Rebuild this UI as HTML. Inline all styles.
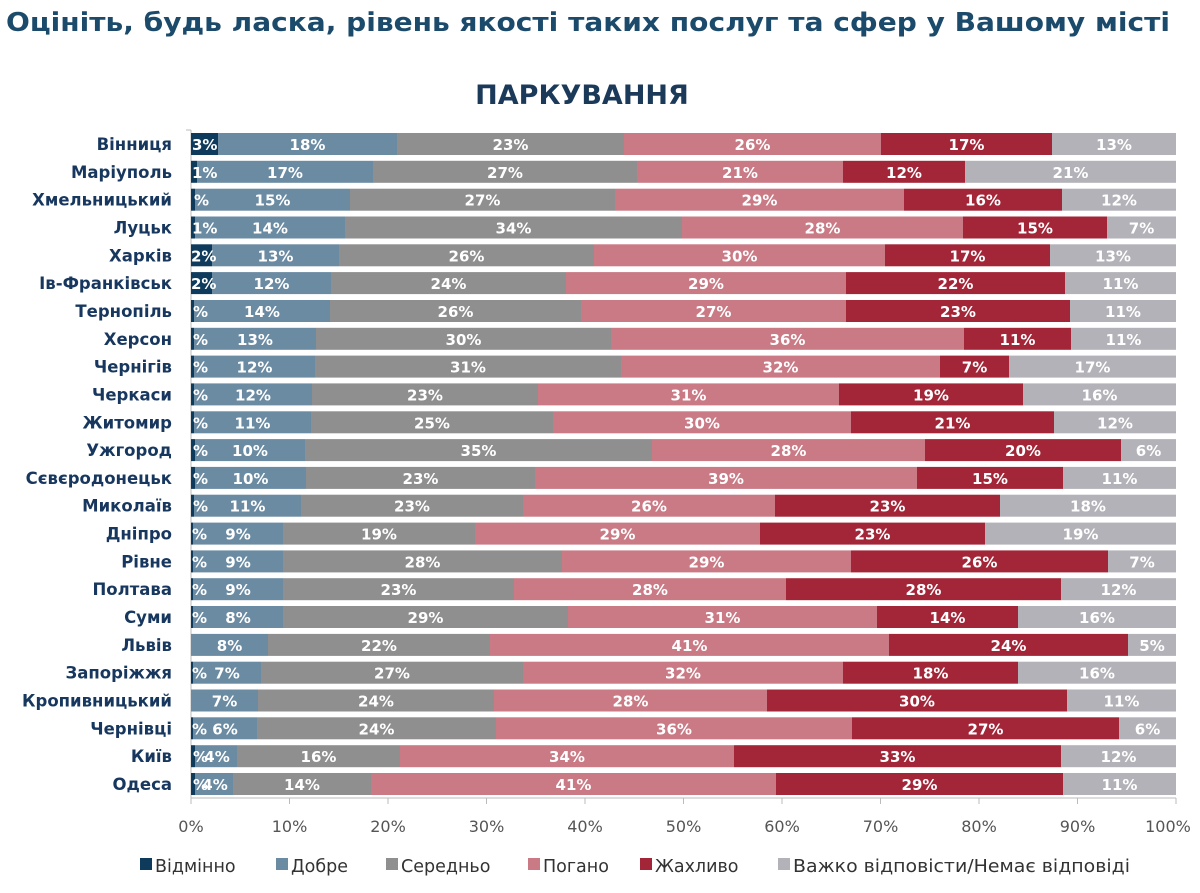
<!DOCTYPE html><html><head><meta charset="utf-8"><style>
body{margin:0;background:#fff;width:1200px;height:888px;overflow:hidden}
svg{font-family:"DejaVu Sans","Liberation Sans",sans-serif}
.c{font-size:16.5px;font-weight:bold;fill:#17375e;text-anchor:end}
.v{font-size:15px;font-weight:bold;fill:#fff;text-anchor:middle}
.s{font-size:15px;font-weight:bold;fill:#fff}
.t{font-size:16px;fill:#555;text-anchor:middle}
.l{font-size:17.5px;fill:#333}
.n{fill:#0e3a5c}.b{fill:#6b8ba3}.g{fill:#8f8f8f}.p{fill:#c97a85}.r{fill:#a32638}.h{fill:#b2b2b8}
</style></head><body>
<svg width="1200" height="888" viewBox="0 0 1200 888">
<text x="6" y="31" font-size="26" font-weight="bold" fill="#1b4a6b" textLength="1164" lengthAdjust="spacingAndGlyphs">Оцініть, будь ласка, рівень якості таких послуг та сфер у Вашому місті</text>
<text x="582" y="104" font-size="27" font-weight="bold" fill="#1b3a5a" text-anchor="middle">ПАРКУВАННЯ</text>
<line x1="191" y1="130" x2="191" y2="800" stroke="#bbb"/>
<g stroke="#bbb"><line x1="186" y1="130" x2="191" y2="130"/><line x1="191" y1="798" x2="1176" y2="798"/>
<line x1="191" y1="798" x2="191" y2="804"/><line x1="289.5" y1="798" x2="289.5" y2="804"/><line x1="388" y1="798" x2="388" y2="804"/><line x1="486.5" y1="798" x2="486.5" y2="804"/><line x1="585" y1="798" x2="585" y2="804"/><line x1="683.5" y1="798" x2="683.5" y2="804"/><line x1="782" y1="798" x2="782" y2="804"/><line x1="880.5" y1="798" x2="880.5" y2="804"/><line x1="979" y1="798" x2="979" y2="804"/><line x1="1077.5" y1="798" x2="1077.5" y2="804"/><line x1="1176" y1="798" x2="1176" y2="804"/></g>
<g class="t"><text x="191" y="832">0%</text><text x="289.5" y="832">10%</text><text x="388" y="832">20%</text><text x="486.5" y="832">30%</text><text x="585" y="832">40%</text><text x="683.5" y="832">50%</text><text x="782" y="832">60%</text><text x="880.5" y="832">70%</text><text x="979" y="832">80%</text><text x="1077.5" y="832">90%</text><text x="1168" y="832">100%</text></g>

<g transform="translate(0,144)"><rect class="n" x="191" y="-11" width="27" height="22"/><rect class="b" x="218" y="-11" width="179" height="22"/><rect class="g" x="397" y="-11" width="227" height="22"/><rect class="p" x="624" y="-11" width="257" height="22"/><rect class="r" x="881" y="-11" width="171" height="22"/><rect class="h" x="1052" y="-11" width="124" height="22"/>
<text class="c" x="172" y="6">Вінниця</text><text class="s" x="192" y="6">3%</text><text class="v" x="307.5" y="6">18%</text><text class="v" x="510.5" y="6">23%</text><text class="v" x="752.5" y="6">26%</text><text class="v" x="966.5" y="6">17%</text><text class="v" x="1114" y="6">13%</text></g>

<g transform="translate(0,171.8)"><rect class="n" x="191" y="-11" width="6" height="22"/><rect class="b" x="197" y="-11" width="176" height="22"/><rect class="g" x="373" y="-11" width="264" height="22"/><rect class="p" x="637" y="-11" width="206" height="22"/><rect class="r" x="843" y="-11" width="122" height="22"/><rect class="h" x="965" y="-11" width="211" height="22"/>
<text class="c" x="172" y="6">Маріуполь</text><text class="s" x="192" y="6">1%</text><text class="v" x="285" y="6">17%</text><text class="v" x="505" y="6">27%</text><text class="v" x="740" y="6">21%</text><text class="v" x="904" y="6">12%</text><text class="v" x="1070.5" y="6">21%</text></g>

<g transform="translate(0,199.7)"><rect class="n" x="191" y="-11" width="4" height="22"/><rect class="b" x="195" y="-11" width="155" height="22"/><rect class="g" x="350" y="-11" width="265" height="22"/><rect class="p" x="615" y="-11" width="289" height="22"/><rect class="r" x="904" y="-11" width="158" height="22"/><rect class="h" x="1062" y="-11" width="114" height="22"/>
<text class="c" x="172" y="6">Хмельницький</text><text class="s" x="194" y="6">%</text><text class="v" x="272.5" y="6">15%</text><text class="v" x="482.5" y="6">27%</text><text class="v" x="759.5" y="6">29%</text><text class="v" x="983" y="6">16%</text><text class="v" x="1119" y="6">12%</text></g>

<g transform="translate(0,227.5)"><rect class="n" x="191" y="-11" width="4" height="22"/><rect class="b" x="195" y="-11" width="150" height="22"/><rect class="g" x="345" y="-11" width="337" height="22"/><rect class="p" x="682" y="-11" width="281" height="22"/><rect class="r" x="963" y="-11" width="144" height="22"/><rect class="h" x="1107" y="-11" width="69" height="22"/>
<text class="c" x="172" y="6">Луцьк</text><text class="s" x="192" y="6">1%</text><text class="v" x="270" y="6">14%</text><text class="v" x="513.5" y="6">34%</text><text class="v" x="822.5" y="6">28%</text><text class="v" x="1035" y="6">15%</text><text class="v" x="1141.5" y="6">7%</text></g>

<g transform="translate(0,255.3)"><rect class="n" x="191" y="-11" width="21" height="22"/><rect class="b" x="212" y="-11" width="127" height="22"/><rect class="g" x="339" y="-11" width="255" height="22"/><rect class="p" x="594" y="-11" width="291" height="22"/><rect class="r" x="885" y="-11" width="165" height="22"/><rect class="h" x="1050" y="-11" width="126" height="22"/>
<text class="c" x="172" y="6">Харків</text><text class="s" x="191" y="6">2%</text><text class="v" x="275.5" y="6">13%</text><text class="v" x="466.5" y="6">26%</text><text class="v" x="739.5" y="6">30%</text><text class="v" x="967.5" y="6">17%</text><text class="v" x="1113" y="6">13%</text></g>

<g transform="translate(0,283.1)"><rect class="n" x="191" y="-11" width="21" height="22"/><rect class="b" x="212" y="-11" width="119" height="22"/><rect class="g" x="331" y="-11" width="235" height="22"/><rect class="p" x="566" y="-11" width="280" height="22"/><rect class="r" x="846" y="-11" width="219" height="22"/><rect class="h" x="1065" y="-11" width="111" height="22"/>
<text class="c" x="172" y="6">Ів-Франківськ</text><text class="s" x="191" y="6">2%</text><text class="v" x="271.5" y="6">12%</text><text class="v" x="448.5" y="6">24%</text><text class="v" x="706" y="6">29%</text><text class="v" x="955.5" y="6">22%</text><text class="v" x="1120.5" y="6">11%</text></g>

<g transform="translate(0,311)"><rect class="n" x="191" y="-11" width="3" height="22"/><rect class="b" x="194" y="-11" width="136" height="22"/><rect class="g" x="330" y="-11" width="251" height="22"/><rect class="p" x="581" y="-11" width="265" height="22"/><rect class="r" x="846" y="-11" width="224" height="22"/><rect class="h" x="1070" y="-11" width="106" height="22"/>
<text class="c" x="172" y="6">Тернопіль</text><text class="s" x="193" y="6">%</text><text class="v" x="262" y="6">14%</text><text class="v" x="455.5" y="6">26%</text><text class="v" x="713.5" y="6">27%</text><text class="v" x="958" y="6">23%</text><text class="v" x="1123" y="6">11%</text></g>

<g transform="translate(0,338.8)"><rect class="n" x="191" y="-11" width="3" height="22"/><rect class="b" x="194" y="-11" width="122" height="22"/><rect class="g" x="316" y="-11" width="295" height="22"/><rect class="p" x="611" y="-11" width="353" height="22"/><rect class="r" x="964" y="-11" width="107" height="22"/><rect class="h" x="1071" y="-11" width="105" height="22"/>
<text class="c" x="172" y="6">Херсон</text><text class="s" x="193" y="6">%</text><text class="v" x="255" y="6">13%</text><text class="v" x="463.5" y="6">30%</text><text class="v" x="787.5" y="6">36%</text><text class="v" x="1017.5" y="6">11%</text><text class="v" x="1123.5" y="6">11%</text></g>

<g transform="translate(0,366.6)"><rect class="n" x="191" y="-11" width="3" height="22"/><rect class="b" x="194" y="-11" width="121" height="22"/><rect class="g" x="315" y="-11" width="306" height="22"/><rect class="p" x="621" y="-11" width="319" height="22"/><rect class="r" x="940" y="-11" width="69" height="22"/><rect class="h" x="1009" y="-11" width="167" height="22"/>
<text class="c" x="172" y="6">Чернігів</text><text class="s" x="193" y="6">%</text><text class="v" x="254.5" y="6">12%</text><text class="v" x="468" y="6">31%</text><text class="v" x="780.5" y="6">32%</text><text class="v" x="974.5" y="6">7%</text><text class="v" x="1092.5" y="6">17%</text></g>

<g transform="translate(0,394.4)"><rect class="n" x="191" y="-11" width="3" height="22"/><rect class="b" x="194" y="-11" width="118" height="22"/><rect class="g" x="312" y="-11" width="226" height="22"/><rect class="p" x="538" y="-11" width="301" height="22"/><rect class="r" x="839" y="-11" width="184" height="22"/><rect class="h" x="1023" y="-11" width="153" height="22"/>
<text class="c" x="172" y="6">Черкаси</text><text class="s" x="193" y="6">%</text><text class="v" x="253" y="6">12%</text><text class="v" x="425" y="6">23%</text><text class="v" x="688.5" y="6">31%</text><text class="v" x="931" y="6">19%</text><text class="v" x="1099.5" y="6">16%</text></g>

<g transform="translate(0,422.3)"><rect class="n" x="191" y="-11" width="3" height="22"/><rect class="b" x="194" y="-11" width="117" height="22"/><rect class="g" x="311" y="-11" width="242" height="22"/><rect class="p" x="553" y="-11" width="298" height="22"/><rect class="r" x="851" y="-11" width="203" height="22"/><rect class="h" x="1054" y="-11" width="122" height="22"/>
<text class="c" x="172" y="6">Житомир</text><text class="s" x="193" y="6">%</text><text class="v" x="252.5" y="6">11%</text><text class="v" x="432" y="6">25%</text><text class="v" x="702" y="6">30%</text><text class="v" x="952.5" y="6">21%</text><text class="v" x="1115" y="6">12%</text></g>

<g transform="translate(0,450.1)"><rect class="n" x="191" y="-11" width="4" height="22"/><rect class="b" x="195" y="-11" width="110" height="22"/><rect class="g" x="305" y="-11" width="347" height="22"/><rect class="p" x="652" y="-11" width="273" height="22"/><rect class="r" x="925" y="-11" width="196" height="22"/><rect class="h" x="1121" y="-11" width="55" height="22"/>
<text class="c" x="172" y="6">Ужгород</text><text class="s" x="193" y="6">%</text><text class="v" x="250" y="6">10%</text><text class="v" x="478.5" y="6">35%</text><text class="v" x="788.5" y="6">28%</text><text class="v" x="1023" y="6">20%</text><text class="v" x="1148.5" y="6">6%</text></g>

<g transform="translate(0,477.9)"><rect class="n" x="191" y="-11" width="4" height="22"/><rect class="b" x="195" y="-11" width="111" height="22"/><rect class="g" x="306" y="-11" width="229" height="22"/><rect class="p" x="535" y="-11" width="382" height="22"/><rect class="r" x="917" y="-11" width="146" height="22"/><rect class="h" x="1063" y="-11" width="113" height="22"/>
<text class="c" x="172" y="6">Сєвєродонецьк</text><text class="s" x="193" y="6">%</text><text class="v" x="250.5" y="6">10%</text><text class="v" x="420.5" y="6">23%</text><text class="v" x="726" y="6">39%</text><text class="v" x="990" y="6">15%</text><text class="v" x="1119.5" y="6">11%</text></g>

<g transform="translate(0,505.7)"><rect class="n" x="191" y="-11" width="3" height="22"/><rect class="b" x="194" y="-11" width="107" height="22"/><rect class="g" x="301" y="-11" width="222" height="22"/><rect class="p" x="523" y="-11" width="252" height="22"/><rect class="r" x="775" y="-11" width="225" height="22"/><rect class="h" x="1000" y="-11" width="176" height="22"/>
<text class="c" x="172" y="6">Миколаїв</text><text class="s" x="193" y="6">%</text><text class="v" x="247.5" y="6">11%</text><text class="v" x="412" y="6">23%</text><text class="v" x="649" y="6">26%</text><text class="v" x="887.5" y="6">23%</text><text class="v" x="1088" y="6">18%</text></g>

<g transform="translate(0,533.6)"><rect class="n" x="191" y="-11" width="2" height="22"/><rect class="b" x="193" y="-11" width="90" height="22"/><rect class="g" x="283" y="-11" width="192" height="22"/><rect class="p" x="475" y="-11" width="285" height="22"/><rect class="r" x="760" y="-11" width="225" height="22"/><rect class="h" x="985" y="-11" width="191" height="22"/>
<text class="c" x="172" y="6">Дніпро</text><text class="s" x="192" y="6">%</text><text class="v" x="238" y="6">9%</text><text class="v" x="379" y="6">19%</text><text class="v" x="617.5" y="6">29%</text><text class="v" x="872.5" y="6">23%</text><text class="v" x="1080.5" y="6">19%</text></g>

<g transform="translate(0,561.4)"><rect class="n" x="191" y="-11" width="2" height="22"/><rect class="b" x="193" y="-11" width="90" height="22"/><rect class="g" x="283" y="-11" width="279" height="22"/><rect class="p" x="562" y="-11" width="289" height="22"/><rect class="r" x="851" y="-11" width="257" height="22"/><rect class="h" x="1108" y="-11" width="68" height="22"/>
<text class="c" x="172" y="6">Рівне</text><text class="s" x="192" y="6">%</text><text class="v" x="238" y="6">9%</text><text class="v" x="422.5" y="6">28%</text><text class="v" x="706.5" y="6">29%</text><text class="v" x="979.5" y="6">26%</text><text class="v" x="1142" y="6">7%</text></g>

<g transform="translate(0,589.2)"><rect class="n" x="191" y="-11" width="2" height="22"/><rect class="b" x="193" y="-11" width="90" height="22"/><rect class="g" x="283" y="-11" width="231" height="22"/><rect class="p" x="514" y="-11" width="272" height="22"/><rect class="r" x="786" y="-11" width="275" height="22"/><rect class="h" x="1061" y="-11" width="115" height="22"/>
<text class="c" x="172" y="6">Полтава</text><text class="s" x="192" y="6">%</text><text class="v" x="238" y="6">9%</text><text class="v" x="398.5" y="6">23%</text><text class="v" x="650" y="6">28%</text><text class="v" x="923.5" y="6">28%</text><text class="v" x="1118.5" y="6">12%</text></g>

<g transform="translate(0,617)"><rect class="n" x="191" y="-11" width="2" height="22"/><rect class="b" x="193" y="-11" width="90" height="22"/><rect class="g" x="283" y="-11" width="285" height="22"/><rect class="p" x="568" y="-11" width="309" height="22"/><rect class="r" x="877" y="-11" width="141" height="22"/><rect class="h" x="1018" y="-11" width="158" height="22"/>
<text class="c" x="172" y="6">Суми</text><text class="s" x="192" y="6">%</text><text class="v" x="238" y="6">8%</text><text class="v" x="425.5" y="6">29%</text><text class="v" x="722.5" y="6">31%</text><text class="v" x="947.5" y="6">14%</text><text class="v" x="1097" y="6">16%</text></g>

<g transform="translate(0,644.9)"><rect class="b" x="191" y="-11" width="77" height="22"/><rect class="g" x="268" y="-11" width="222" height="22"/><rect class="p" x="490" y="-11" width="399" height="22"/><rect class="r" x="889" y="-11" width="239" height="22"/><rect class="h" x="1128" y="-11" width="48" height="22"/>
<text class="c" x="172" y="6">Львів</text><text class="v" x="229.5" y="6">8%</text><text class="v" x="379" y="6">22%</text><text class="v" x="689.5" y="6">41%</text><text class="v" x="1008.5" y="6">24%</text><text class="v" x="1152" y="6">5%</text></g>

<g transform="translate(0,672.7)"><rect class="n" x="191" y="-11" width="2" height="22"/><rect class="b" x="193" y="-11" width="68" height="22"/><rect class="g" x="261" y="-11" width="262" height="22"/><rect class="p" x="523" y="-11" width="320" height="22"/><rect class="r" x="843" y="-11" width="175" height="22"/><rect class="h" x="1018" y="-11" width="158" height="22"/>
<text class="c" x="172" y="6">Запоріжжя</text><text class="s" x="192" y="6">%</text><text class="v" x="227" y="6">7%</text><text class="v" x="392" y="6">27%</text><text class="v" x="683" y="6">32%</text><text class="v" x="930.5" y="6">18%</text><text class="v" x="1097" y="6">16%</text></g>

<g transform="translate(0,700.5)"><rect class="b" x="191" y="-11" width="67" height="22"/><rect class="g" x="258" y="-11" width="236" height="22"/><rect class="p" x="494" y="-11" width="273" height="22"/><rect class="r" x="767" y="-11" width="300" height="22"/><rect class="h" x="1067" y="-11" width="109" height="22"/>
<text class="c" x="172" y="6">Кропивницький</text><text class="v" x="224.5" y="6">7%</text><text class="v" x="376" y="6">24%</text><text class="v" x="630.5" y="6">28%</text><text class="v" x="917" y="6">30%</text><text class="v" x="1121.5" y="6">11%</text></g>

<g transform="translate(0,728.3)"><rect class="n" x="191" y="-11" width="2" height="22"/><rect class="b" x="193" y="-11" width="64" height="22"/><rect class="g" x="257" y="-11" width="239" height="22"/><rect class="p" x="496" y="-11" width="356" height="22"/><rect class="r" x="852" y="-11" width="267" height="22"/><rect class="h" x="1119" y="-11" width="57" height="22"/>
<text class="c" x="172" y="6">Чернівці</text><text class="s" x="192" y="6">%</text><text class="v" x="225" y="6">6%</text><text class="v" x="376.5" y="6">24%</text><text class="v" x="674" y="6">36%</text><text class="v" x="985.5" y="6">27%</text><text class="v" x="1147.5" y="6">6%</text></g>

<g transform="translate(0,756.2)"><rect class="n" x="191" y="-11" width="4" height="22"/><rect class="b" x="195" y="-11" width="42" height="22"/><rect class="g" x="237" y="-11" width="163" height="22"/><rect class="p" x="400" y="-11" width="334" height="22"/><rect class="r" x="734" y="-11" width="327" height="22"/><rect class="h" x="1061" y="-11" width="115" height="22"/>
<text class="c" x="172" y="6">Київ</text><text class="s" x="193" y="6">%</text><text class="v" x="217" y="6">4%</text><text class="v" x="318.5" y="6">16%</text><text class="v" x="567" y="6">34%</text><text class="v" x="897.5" y="6">33%</text><text class="v" x="1118.5" y="6">12%</text></g>

<g transform="translate(0,784)"><rect class="n" x="191" y="-11" width="4" height="22"/><rect class="b" x="195" y="-11" width="38" height="22"/><rect class="g" x="233" y="-11" width="138" height="22"/><rect class="p" x="371" y="-11" width="405" height="22"/><rect class="r" x="776" y="-11" width="287" height="22"/><rect class="h" x="1063" y="-11" width="113" height="22"/>
<text class="c" x="172" y="6">Одеса</text><text class="s" x="193" y="6">%</text><text class="v" x="215" y="6">4%</text><text class="v" x="302" y="6">14%</text><text class="v" x="573.5" y="6">41%</text><text class="v" x="919.5" y="6">29%</text><text class="v" x="1119.5" y="6">11%</text></g>

<g class="l">
<rect class="n" x="140" y="858" width="12" height="12"/><text x="155" y="872">Відмінно</text>
<rect class="b" x="276" y="858" width="12" height="12"/><text x="291" y="872">Добре</text>
<rect class="g" x="386" y="858" width="12" height="12"/><text x="401" y="872">Середньо</text>
<rect class="p" x="528" y="858" width="12" height="12"/><text x="543" y="872">Погано</text>
<rect class="r" x="640" y="858" width="12" height="12"/><text x="655" y="872">Жахливо</text>
<rect class="h" x="778" y="858" width="12" height="12"/><text x="793" y="872" textLength="337" lengthAdjust="spacingAndGlyphs">Важко відповісти/Немає відповіді</text>
</g>
</svg></body></html>
